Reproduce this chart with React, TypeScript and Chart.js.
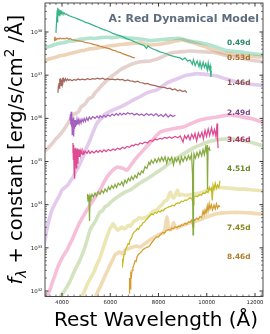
import React, { useEffect, useRef } from "react";
import { Chart, registerables } from "chart.js";

Chart.register(...registerables);

// ---------- axis / tick data ----------
const X_MIN = 3295;
const X_MAX = 12331;
const LOG_MIN = 31.873;
const LOG_MAX = 38.672;
const X_MAJOR_TICKS = [4000, 6000, 8000, 10000, 12000];
const X_TICK_LABELS = ["4000", "6000", "8000", "10000", "12000"];
const X_MINOR_STEP = 250;
const Y_MAJOR_EXPONENTS = [32, 33, 34, 35, 36, 37, 38];

const TITLE = "A: Red Dynamical Model";
const X_LABEL = "Rest Wavelength (Å)";

const DAY_LABELS = ["0.49d", "0.53d", "1.46d", "2.49d", "3.46d", "4.51d", "7.45d", "8.46d"];
const DAY_LABEL_LOGF = [37.745, 37.398, 36.819, 36.124, 35.499, 34.827, 33.461, 32.789];
const DAY_LABEL_WAVE = 10840;

// ---------- observed spectra: [wavelength Å, log10 flux] ----------
const obs049: [number, number][] = [
  [3750, 37.98], [3780, 38.30], [3800, 38.50], [3815, 38.22], [3830, 38.56], [3850, 38.40], [3870, 38.53],
  [3890, 38.38], [3910, 38.50], [3930, 38.42], [3950, 38.51], [3975, 38.43], [4000, 38.46], [4040, 38.42],
  [4080, 38.45], [4130, 38.41], [4180, 38.42], [4250, 38.39], [4330, 38.37], [4420, 38.35], [4520, 38.33],
  [4620, 38.31], [4746, 38.28], [4850, 38.26], [4950, 38.23], [5060, 38.21], [5161, 38.19], [5280, 38.16],
  [5400, 38.13], [5500, 38.11], [5575, 38.09], [5700, 38.06], [5820, 38.04], [5990, 38.00], [6100, 37.97],
  [6250, 37.94], [6404, 37.91], [6550, 37.88], [6700, 37.84], [6819, 37.82], [6950, 37.79], [7100, 37.75],
  [7233, 37.72], [7400, 37.69], [7500, 37.62], [7560, 37.68], [7648, 37.64], [7800, 37.60], [7950, 37.57],
  [8062, 37.54], [8200, 37.52], [8350, 37.49], [8477, 37.46], [8600, 37.44], [8750, 37.42], [8891, 37.40],
  [9000, 37.36], [9100, 37.40], [9200, 37.33], [9306, 37.35], [9400, 37.25], [9450, 37.36], [9520, 37.22],
  [9600, 37.33], [9680, 37.20], [9720, 37.31], [9780, 37.16], [9850, 37.30], [9900, 37.18], [9960, 37.27],
  [10020, 37.12], [10060, 37.28], [10100, 37.14], [10140, 37.22], [10170, 36.96], [10190, 37.10],
];

const obs053: [number, number][] = [
  [3670, 37.80], [3690, 37.84], [3710, 37.81], [3740, 37.86], [3780, 37.83], [3830, 37.85], [3880, 37.84],
  [3920, 37.86], [3980, 37.84], [4050, 37.85], [4120, 37.84], [4200, 37.86], [4280, 37.83], [4332, 37.85],
  [4420, 37.82], [4520, 37.81], [4620, 37.80], [4746, 37.79], [4850, 37.78], [4950, 37.76], [5060, 37.75],
  [5161, 37.74], [5270, 37.72], [5380, 37.70], [5480, 37.69], [5575, 37.67], [5700, 37.65], [5800, 37.64],
  [5900, 37.62], [5990, 37.61], [6100, 37.58], [6200, 37.57], [6300, 37.54], [6404, 37.53], [6500, 37.50],
  [6600, 37.48], [6700, 37.46], [6800, 37.44], [6900, 37.42], [6960, 37.40], [7020, 37.41],
];

const obs146: [number, number][] = [
  [3830, 36.59], [3850, 36.75], [3870, 36.82], [3890, 36.70], [3905, 36.92], [3920, 36.80], [3940, 36.93],
  [3960, 36.76], [3980, 36.90], [4000, 36.83], [4020, 36.94], [4041, 36.81], [4070, 36.91], [4100, 36.86],
  [4140, 36.92], [4180, 36.87], [4230, 36.91], [4280, 36.88], [4340, 36.90], [4415, 36.87], [4500, 36.90],
  [4580, 36.88], [4660, 36.91], [4746, 36.89], [4850, 36.91], [4953, 36.89], [5060, 36.92], [5161, 36.90],
  [5260, 36.92], [5368, 36.91], [5470, 36.93], [5575, 36.91], [5680, 36.93], [5782, 36.90], [5890, 36.92],
  [5990, 36.90], [6100, 36.91], [6197, 36.89], [6300, 36.91], [6404, 36.89], [6510, 36.90], [6611, 36.87],
  [6720, 36.89], [6819, 36.87], [6930, 36.86], [7026, 36.84], [7130, 36.86], [7233, 36.83], [7340, 36.82],
  [7440, 36.80], [7550, 36.81], [7648, 36.78], [7750, 36.77], [7855, 36.76], [7960, 36.74], [8062, 36.73],
  [8170, 36.72], [8270, 36.71], [8370, 36.69], [8477, 36.70], [8580, 36.66], [8684, 36.68], [8790, 36.64],
  [8891, 36.66], [9000, 36.62], [9099, 36.64], [9180, 36.60],
];

const obs249: [number, number][] = [
  [4330, 35.95], [4350, 36.10], [4365, 35.85], [4380, 36.15], [4395, 35.80], [4410, 36.05], [4425, 35.62],
  [4440, 35.98], [4455, 35.75], [4470, 36.02], [4485, 35.58], [4500, 35.90], [4520, 35.76], [4540, 35.96],
  [4560, 35.80], [4580, 35.94], [4600, 35.84], [4622, 35.97], [4650, 35.86], [4680, 35.96], [4710, 35.88],
  [4746, 35.97], [4790, 35.89], [4829, 35.98], [4880, 35.92], [4920, 36.00], [4970, 35.93], [5020, 36.01],
  [5078, 35.95], [5130, 36.03], [5202, 35.98], [5270, 36.04], [5368, 36.00], [5450, 36.05], [5530, 36.01],
  [5575, 36.06], [5660, 36.02], [5740, 36.07], [5820, 36.03], [5900, 36.08], [5990, 36.05], [6080, 36.10],
  [6160, 36.06], [6250, 36.11], [6330, 36.07], [6404, 36.12], [6480, 36.08], [6560, 36.12], [6640, 36.09],
  [6720, 36.13], [6819, 36.10], [6900, 36.12], [7000, 36.08], [7100, 36.11], [7200, 36.07], [7300, 36.10],
  [7400, 36.06], [7500, 36.11], [7600, 36.07], [7700, 36.10], [7800, 36.06], [7900, 36.11], [8000, 36.05],
  [8100, 36.09], [8200, 36.04], [8300, 36.10], [8400, 36.03], [8500, 36.08], [8600, 36.04], [8700, 36.07],
];

const obs346: [number, number][] = [
  [4440, 35.20], [4455, 35.43], [4470, 35.05], [4485, 35.38], [4500, 34.80], [4515, 35.30], [4530, 34.60],
  [4545, 35.25], [4560, 35.00], [4575, 35.32], [4590, 34.85], [4605, 35.28], [4620, 35.10], [4640, 35.30],
  [4660, 34.95], [4680, 35.27], [4705, 35.12], [4730, 35.28], [4760, 35.15], [4790, 35.26], [4829, 35.17],
  [4870, 35.25], [4912, 35.18], [4960, 35.24], [5036, 35.19], [5100, 35.25], [5161, 35.19], [5240, 35.24],
  [5326, 35.20], [5420, 35.25], [5500, 35.21], [5575, 35.26], [5660, 35.22], [5740, 35.27], [5824, 35.23],
  [5920, 35.28], [6020, 35.25], [6114, 35.29], [6200, 35.26], [6300, 35.31], [6404, 35.28], [6500, 35.33],
  [6600, 35.30], [6700, 35.35], [6800, 35.33], [6900, 35.38], [6963, 35.36], [7050, 35.40], [7150, 35.38],
  [7233, 35.43], [7330, 35.41], [7440, 35.45], [7540, 35.43], [7648, 35.49], [7750, 35.47], [7855, 35.52],
  [7950, 35.50], [8062, 35.54], [8150, 35.52], [8250, 35.56], [8352, 35.54], [8450, 35.57], [8550, 35.54],
  [8684, 35.58], [8800, 35.55], [8900, 35.59], [9016, 35.45], [9080, 35.60], [9150, 35.53], [9230, 35.61],
  [9306, 35.50], [9380, 35.63], [9450, 35.54], [9513, 35.65], [9580, 35.48], [9650, 35.66], [9720, 35.56],
  [9800, 35.68], [9860, 35.52], [9928, 35.72], [9990, 35.58], [10060, 35.75], [10120, 35.60], [10200, 35.78],
  [10260, 35.62], [10320, 35.74], [10380, 35.58], [10425, 35.88], [10450, 35.50], [10470, 35.31],
];

const obs451: [number, number][] = [
  [5040, 34.14], [5060, 34.25], [5080, 34.08], [5100, 34.22], [5119, 34.12], [5140, 33.62], [5161, 34.21],
  [5200, 34.15], [5244, 34.24], [5300, 34.18], [5368, 34.27], [5430, 34.20], [5500, 34.30], [5575, 34.24],
  [5650, 34.33], [5720, 34.27], [5782, 34.36], [5860, 34.30], [5930, 34.41], [5990, 34.35], [6060, 34.44],
  [6130, 34.38], [6197, 34.47], [6260, 34.40], [6330, 34.50], [6404, 34.45], [6480, 34.53], [6540, 34.44],
  [6611, 34.57], [6680, 34.50], [6750, 34.61], [6819, 34.55], [6880, 34.65], [6950, 34.58], [7026, 34.68],
  [7100, 34.62], [7160, 34.74], [7233, 34.69], [7300, 34.78], [7360, 34.74], [7440, 34.88], [7520, 34.84],
  [7600, 34.98], [7648, 34.93], [7700, 35.03], [7780, 34.96], [7855, 35.06], [7930, 34.98], [8000, 35.08],
  [8062, 35.00], [8130, 35.10], [8200, 35.01], [8270, 35.11], [8340, 34.96], [8400, 35.09], [8477, 35.02],
  [8550, 35.10], [8620, 34.92], [8684, 35.08], [8750, 35.00], [8820, 35.09], [8891, 34.95], [8950, 35.10],
  [9020, 35.00], [9099, 35.12], [9170, 35.03], [9240, 35.14], [9306, 35.05], [9370, 35.17], [9410, 34.70],
  [9430, 33.30], [9450, 34.85], [9472, 35.18], [9530, 35.08], [9596, 35.21], [9660, 35.11], [9720, 35.24],
  [9790, 35.13], [9845, 35.28], [9900, 35.16], [9950, 35.33], [9990, 35.22], [10011, 35.38], [10030, 34.35],
  [10052, 35.26], [10100, 35.32], [10135, 35.24],
];

const obs745: [number, number][] = [
  [6487, 32.56], [6510, 32.75], [6530, 32.68], [6570, 32.85], [6610, 32.92], [6650, 32.98], [6694, 33.04],
  [6740, 33.10], [6780, 33.08], [6819, 33.18], [6870, 33.22], [6943, 33.33], [7000, 33.37], [7067, 33.40],
  [7120, 33.45], [7180, 33.43], [7233, 33.50], [7300, 33.52], [7360, 33.58], [7420, 33.60], [7480, 33.65],
  [7540, 33.68], [7600, 33.72], [7648, 33.75], [7720, 33.79], [7780, 33.77], [7855, 33.82], [7930, 33.80],
  [8000, 33.85], [8062, 33.83], [8130, 33.87], [8200, 33.86], [8270, 33.91], [8352, 33.93], [8420, 33.95],
  [8500, 33.96], [8580, 33.99], [8650, 33.97], [8720, 34.02], [8800, 34.04], [8870, 34.03], [8950, 34.08],
  [9030, 34.07], [9100, 34.11], [9170, 34.10], [9250, 34.14], [9306, 34.16], [9380, 34.15], [9440, 34.00],
  [9470, 34.18], [9540, 34.20], [9620, 34.19], [9700, 34.23], [9770, 34.22], [9850, 34.27], [9928, 34.26],
  [9990, 34.31], [10050, 34.28], [10100, 34.40], [10135, 34.34], [10190, 34.38], [10230, 34.10], [10260, 34.45],
  [10300, 34.36], [10350, 34.50], [10400, 34.38], [10450, 34.46], [10500, 34.40], [10549, 34.55],
];

const obs846: [number, number][] = [
  [6780, 31.95], [6800, 32.30], [6820, 32.05], [6850, 32.40], [6880, 32.35], [6902, 32.48], [6940, 32.55],
  [6984, 32.62], [7030, 32.70], [7070, 32.68], [7109, 32.79], [7160, 32.84], [7233, 32.88], [7300, 32.92],
  [7360, 32.96], [7440, 32.99], [7520, 33.01], [7600, 33.03], [7648, 33.06], [7720, 33.12], [7800, 33.18],
  [7855, 33.22], [7938, 33.26], [8000, 33.25], [8062, 33.30], [8130, 33.33], [8187, 33.36], [8250, 33.34],
  [8320, 33.40], [8400, 33.42], [8477, 33.41], [8550, 33.46], [8620, 33.44], [8684, 33.49], [8767, 33.47],
  [8830, 33.50], [8891, 33.49], [8950, 33.53], [9020, 33.52], [9099, 33.57], [9170, 33.55], [9240, 33.60],
  [9306, 33.59], [9380, 33.65], [9430, 33.48], [9460, 33.66], [9513, 33.64], [9580, 33.69], [9650, 33.66],
  [9720, 33.73], [9790, 33.70], [9845, 33.85], [9890, 33.76], [9928, 33.88], [9970, 33.80], [10020, 33.97],
  [10052, 33.85], [10100, 34.02], [10135, 33.90], [10190, 34.00], [10240, 33.88], [10300, 33.99], [10350, 33.90],
  [10400, 34.02], [10450, 33.92], [10500, 33.98], [10549, 33.95],
];

// ---------- model spectra: [wavelength Å, log10 flux] ----------
const model049: [number, number][] = [
  [3250, 37.63], [3500, 37.67], [3710, 37.71], [3920, 37.74], [4130, 37.76], [4330, 37.79], [4540, 37.80],
  [4750, 37.83], [4950, 37.84], [5160, 37.86], [5370, 37.85], [5580, 37.87], [5860, 37.88], [6100, 37.87],
  [6400, 37.89], [6620, 37.87], [6820, 37.86], [7030, 37.85], [7230, 37.84], [7440, 37.82], [7650, 37.80],
  [7860, 37.81], [8060, 37.82], [8270, 37.83], [8480, 37.84], [8690, 37.85], [8890, 37.85], [9100, 37.82],
  [9300, 37.79], [9510, 37.77], [9720, 37.75], [9930, 37.73], [10130, 37.70], [10340, 37.66], [10550, 37.62],
  [10760, 37.58], [10960, 37.56], [11170, 37.55], [11380, 37.54], [11590, 37.52], [11790, 37.51], [12000, 37.49],
  [12400, 37.47],
];

const model053: [number, number][] = [
  [3250, 37.33], [3500, 37.38], [3710, 37.41], [3920, 37.45], [4130, 37.47], [4330, 37.50], [4540, 37.53],
  [4750, 37.56], [4950, 37.58], [5160, 37.61], [5370, 37.62], [5580, 37.64], [5800, 37.66], [6000, 37.68],
  [6200, 37.69], [6400, 37.71], [6620, 37.72], [6820, 37.73], [7030, 37.74], [7230, 37.75], [7440, 37.72],
  [7650, 37.70], [7860, 37.71], [8060, 37.72], [8270, 37.74], [8480, 37.76], [8690, 37.79], [8890, 37.81],
  [9000, 37.82], [9100, 37.80], [9300, 37.77], [9510, 37.74], [9720, 37.70], [9930, 37.66], [10130, 37.61],
  [10340, 37.57], [10550, 37.53], [10760, 37.50], [10960, 37.49], [11170, 37.47], [11380, 37.46], [11590, 37.45],
  [11790, 37.44], [12000, 37.43], [12400, 37.42],
];

const model146: [number, number][] = [
  [3250, 35.22], [3400, 35.30], [3500, 35.36], [3600, 35.42], [3710, 35.50], [3850, 35.58], [4000, 35.68],
  [4150, 35.80], [4330, 35.96], [4500, 36.10], [4663, 36.14], [4800, 36.27], [4953, 36.33], [5100, 36.45],
  [5244, 36.49], [5380, 36.60], [5492, 36.66], [5640, 36.76], [5782, 36.84], [5920, 36.91], [6073, 36.98],
  [6240, 37.05], [6404, 37.12], [6600, 37.18], [6819, 37.24], [7030, 37.28], [7233, 37.31], [7440, 37.32],
  [7648, 37.33], [7860, 37.36], [8062, 37.40], [8270, 37.46], [8477, 37.51], [8680, 37.53], [8891, 37.54],
  [9100, 37.55], [9306, 37.56], [9600, 37.55], [9928, 37.54], [10200, 37.53], [10425, 37.51], [10700, 37.47],
  [10964, 37.44], [11300, 37.41], [11586, 37.38], [11950, 37.34], [12400, 37.30],
];

const model249: [number, number][] = [
  [3250, 33.05], [3350, 33.35], [3420, 33.55], [3500, 33.72], [3586, 33.88], [3690, 34.00], [3793, 34.11],
  [3900, 34.22], [4000, 34.34], [4120, 34.40], [4249, 34.46], [4350, 34.55], [4456, 34.64], [4560, 34.76],
  [4663, 34.85], [4770, 34.98], [4870, 35.10], [5000, 35.30], [5161, 35.50], [5300, 35.70], [5451, 35.89],
  [5560, 35.96], [5658, 36.01], [5760, 36.08], [5865, 36.12], [6100, 36.19], [6404, 36.26], [6650, 36.33],
  [6943, 36.42], [7230, 36.50], [7523, 36.59], [7730, 36.63], [7938, 36.66], [8150, 36.74], [8352, 36.82],
  [8600, 36.88], [8891, 36.94], [9100, 36.99], [9306, 37.01], [9500, 37.03], [9720, 37.03], [10050, 37.01],
  [10425, 36.98], [10800, 36.91], [11254, 36.84], [11700, 36.80], [12000, 36.78], [12400, 36.76],
];

const model346: [number, number][] = [
  [3250, 31.70], [3295, 31.79], [3400, 31.92], [3503, 32.03], [3600, 32.20], [3710, 32.37], [3800, 32.52],
  [3917, 32.67], [4060, 32.82], [4207, 32.95], [4300, 33.06], [4415, 33.18], [4580, 33.40], [4746, 33.60],
  [4950, 33.80], [5161, 33.99], [5370, 34.17], [5575, 34.34], [5720, 34.50], [5865, 34.64], [6070, 34.78],
  [6280, 34.87], [6400, 34.86], [6487, 34.85], [6600, 34.82], [6694, 34.80], [6900, 34.95], [7109, 35.10],
  [7380, 35.27], [7648, 35.43], [7860, 35.57], [8062, 35.68], [8200, 35.71], [8352, 35.73], [8700, 35.77],
  [9016, 35.80], [9350, 35.88], [9720, 35.96], [10050, 36.00], [10425, 36.03], [10964, 36.08], [11400, 36.04],
  [11793, 36.00], [12100, 35.95], [12400, 35.89],
];

const model451: [number, number][] = [
  [3710, 31.68], [3917, 31.86], [4124, 32.02], [4332, 32.23], [4539, 32.49], [4746, 32.72], [4953, 33.02],
  [5161, 33.41], [5268, 33.52], [5368, 33.60], [5470, 33.72], [5575, 33.83], [5680, 33.86], [5780, 33.95],
  [5880, 33.98], [5990, 34.04], [6200, 34.14], [6404, 34.22], [6611, 34.29], [6819, 34.34], [7030, 34.42],
  [7233, 34.50], [7440, 34.57], [7648, 34.64], [7855, 34.72], [8062, 34.80], [8270, 34.88], [8477, 34.97],
  [8680, 35.05], [8891, 35.13], [9100, 35.20], [9306, 35.27], [9580, 35.35], [9845, 35.41], [10130, 35.47],
  [10425, 35.50], [10750, 35.52], [11088, 35.52], [11450, 35.49], [11793, 35.45], [12100, 35.40], [12400, 35.35],
];

const model745: [number, number][] = [
  [4700, 31.70], [4870, 31.93], [4953, 32.03], [5060, 32.17], [5161, 32.28], [5240, 32.36], [5326, 32.44],
  [5420, 32.58], [5500, 32.68], [5575, 32.77], [5680, 32.95], [5780, 33.12], [5880, 33.28], [5990, 33.45],
  [6060, 33.50], [6114, 33.56], [6200, 33.48], [6321, 33.41], [6400, 33.45], [6487, 33.48], [6570, 33.44],
  [6653, 33.46], [6740, 33.52], [6819, 33.50], [6960, 33.60], [7109, 33.65], [7200, 33.70], [7316, 33.68],
  [7420, 33.70], [7523, 33.72], [7630, 33.76], [7731, 33.83], [7840, 33.86], [7938, 33.88], [8040, 33.95],
  [8145, 34.00], [8250, 34.08], [8352, 34.11], [8420, 34.20], [8500, 34.29], [8560, 34.18], [8640, 34.16],
  [8720, 34.26], [8790, 34.33], [8850, 34.22], [8950, 34.24], [9100, 34.22], [9306, 34.23], [9500, 34.25],
  [9720, 34.27], [9930, 34.31], [10135, 34.35], [10466, 34.40], [10964, 34.38], [11300, 34.36], [11586, 34.36],
  [11950, 34.34], [12400, 34.32],
];

const model846: [number, number][] = [
  [5200, 31.60], [5368, 31.84], [5470, 31.97], [5575, 32.09], [5680, 32.22], [5782, 32.35], [5890, 32.47],
  [5990, 32.60], [6100, 32.72], [6197, 32.84], [6300, 32.88], [6404, 32.90], [6500, 32.86], [6611, 32.95],
  [6750, 32.98], [6943, 33.02], [7100, 33.04], [7233, 33.02], [7440, 33.10], [7648, 33.18], [7800, 33.24],
  [7938, 33.28], [8060, 33.32], [8187, 33.34], [8270, 33.45], [8352, 33.72], [8420, 33.45], [8520, 33.42],
  [8620, 33.58], [8700, 33.47], [8767, 33.46], [8930, 33.51], [9099, 33.54], [9306, 33.58], [9500, 33.61],
  [9720, 33.65], [9930, 33.70], [10135, 33.74], [10400, 33.79], [10673, 33.81], [11000, 33.82], [11378, 33.82],
  [11800, 33.81], [12100, 33.79], [12400, 33.78],
];

// ---------- colours ----------
const OBS_SERIES = [obs049, obs053, obs146, obs249, obs346, obs451, obs745, obs846];
const MODEL_SERIES = [model049, model053, model146, model249, model346, model451, model745, model846];
const OBS_COLORS = [
  "rgb(58,180,135)", "rgb(196,136,66)", "rgb(165,105,95)", "rgb(165,95,190)",
  "rgb(222,75,145)", "rgb(135,170,65)", "rgb(196,186,36)", "rgb(212,156,46)",
];
const MODEL_COLORS = [
  "rgba(64,185,140,0.4)", "rgba(215,160,100,0.45)", "rgba(190,140,130,0.4)", "rgba(190,140,215,0.45)",
  "rgba(240,130,180,0.5)", "rgba(170,200,130,0.5)", "rgba(220,210,120,0.55)", "rgba(230,190,120,0.55)",
];
const LABEL_COLORS = [
  "#2b8a66", "#a8702a", "#8a5550", "#7a4a90", "#a83068", "#6a8a2a", "#8a8420", "#b08028",
];

const toPoints = (s: [number, number][]) => s.map(([w, lf]) => ({ x: w, y: Math.pow(10, lf) }));

const FONT = "'DejaVu Sans', sans-serif";

const decorPlugin = {
  id: "decor",
  afterDatasetsDraw(chart: any) {
    const { ctx, chartArea: a, scales } = chart;
    const xs = scales.x;
    const ys = scales.y;
    ctx.save();

    // frame
    ctx.strokeStyle = "#222";
    ctx.lineWidth = 0.8;
    ctx.strokeRect(a.left, a.top, a.right - a.left, a.bottom - a.top);

    // x ticks (bottom and top, inward)
    for (let v = 3500; v <= X_MAX; v += X_MINOR_STEP) {
      const px = xs.getPixelForValue(v);
      if (px < a.left || px > a.right) continue;
      const major = X_MAJOR_TICKS.includes(v);
      const len = major ? 3.5 : 2;
      ctx.lineWidth = major ? 0.9 : 0.6;
      ctx.beginPath();
      ctx.moveTo(px, a.bottom);
      ctx.lineTo(px, a.bottom - len);
      ctx.moveTo(px, a.top);
      ctx.lineTo(px, a.top + len);
      ctx.stroke();
    }
    // y ticks (left and right, inward)
    for (let e = 31; e <= 38; e++) {
      for (let k = 1; k <= 9; k++) {
        const val = k * Math.pow(10, e);
        const lg = Math.log10(val);
        if (lg < LOG_MIN || lg > LOG_MAX) continue;
        const py = ys.getPixelForValue(val);
        const major = k === 1;
        const len = major ? 3.5 : 2;
        ctx.lineWidth = major ? 0.9 : 0.6;
        ctx.beginPath();
        ctx.moveTo(a.left, py);
        ctx.lineTo(a.left + len, py);
        ctx.moveTo(a.right, py);
        ctx.lineTo(a.right - len, py);
        ctx.stroke();
      }
    }

    // x tick labels
    ctx.fillStyle = "#222";
    ctx.font = `5.3px ${FONT}`;
    ctx.textAlign = "center";
    ctx.textBaseline = "top";
    X_MAJOR_TICKS.forEach((v, i) => {
      ctx.fillText(X_TICK_LABELS[i], xs.getPixelForValue(v), a.bottom + 3.2);
    });

    // y tick labels: 10^n
    ctx.textAlign = "left";
    ctx.textBaseline = "alphabetic";
    Y_MAJOR_EXPONENTS.forEach((e) => {
      const py = ys.getPixelForValue(Math.pow(10, e));
      ctx.font = `5.5px ${FONT}`;
      const w10 = ctx.measureText("10").width;
      ctx.font = `3.8px ${FONT}`;
      const wE = ctx.measureText(String(e)).width;
      const x0 = a.left - 2.5 - w10 - wE;
      ctx.font = `5.5px ${FONT}`;
      ctx.fillText("10", x0, py + 2.1);
      ctx.font = `3.8px ${FONT}`;
      ctx.fillText(String(e), x0 + w10, py - 0.3);
    });

    // title
    ctx.fillStyle = "#5d6d7e";
    ctx.font = `bold 11px ${FONT}`;
    ctx.textAlign = "right";
    ctx.fillText(TITLE, a.right - 4, 21.5);

    // day labels
    ctx.font = `bold 7.4px ${FONT}`;
    ctx.textAlign = "left";
    ctx.textBaseline = "middle";
    DAY_LABELS.forEach((t, i) => {
      ctx.fillStyle = LABEL_COLORS[i];
      ctx.fillText(t, xs.getPixelForValue(DAY_LABEL_WAVE), ys.getPixelForValue(Math.pow(10, DAY_LABEL_LOGF[i])));
    });

    // x axis label
    ctx.fillStyle = "#000";
    ctx.font = `20px ${FONT}`;
    ctx.textAlign = "center";
    ctx.textBaseline = "alphabetic";
    ctx.fillText(X_LABEL, (a.left + a.right) / 2 + 2, 326);

    // y axis label (rotated, with math pieces)
    const fs = 19.5;
    const pieces = [
      { t: "f", font: `italic ${fs}px ${FONT}`, dy: 0 },
      { t: "λ", font: `italic ${fs * 0.7}px ${FONT}`, dy: fs * 0.22 },
      { t: " + constant [erg/s/cm", font: `${fs}px ${FONT}`, dy: 0 },
      { t: "2", font: `${fs * 0.7}px ${FONT}`, dy: -fs * 0.4 },
      { t: " /Å]", font: `${fs}px ${FONT}`, dy: 0 },
    ];
    let total = 0;
    const widths = pieces.map((p) => {
      ctx.font = p.font;
      const w = ctx.measureText(p.t).width;
      total += w;
      return w;
    });
    ctx.translate(21.5, (a.top + a.bottom) / 2);
    ctx.rotate(-Math.PI / 2);
    ctx.textAlign = "left";
    let cx = -total / 2;
    pieces.forEach((p, i) => {
      ctx.font = p.font;
      ctx.fillText(p.t, cx, p.dy);
      cx += widths[i];
    });

    ctx.restore();
  },
};

export default function App() {
  const ref = useRef<HTMLCanvasElement | null>(null);

  useEffect(() => {
    if (!ref.current) return;
    const datasets: any[] = [];
    OBS_SERIES.forEach((s, i) => {
      datasets.push({
        data: toPoints(s),
        borderColor: OBS_COLORS[i],
        borderWidth: 1.25,
        pointRadius: 0,
        tension: 0,
        fill: false,
        order: 0,
      });
    });
    MODEL_SERIES.forEach((s, i) => {
      datasets.push({
        data: toPoints(s),
        borderColor: MODEL_COLORS[i],
        borderWidth: 3.6,
        pointRadius: 0,
        tension: 0.25,
        fill: false,
        order: 1,
      });
    });

    const chart = new Chart(ref.current, {
      type: "line",
      data: { datasets },
      options: {
        animation: false,
        responsive: false,
        maintainAspectRatio: false,
        devicePixelRatio: 1,
        events: [],
        layout: { padding: { left: 45, right: 7, top: 3, bottom: 37.5 } },
        plugins: { legend: { display: false }, tooltip: { enabled: false }, title: { display: false } },
        scales: {
          x: { type: "linear", min: X_MIN, max: X_MAX, display: false },
          y: { type: "logarithmic", min: Math.pow(10, LOG_MIN), max: Math.pow(10, LOG_MAX), display: false },
        },
      },
      plugins: [decorPlugin],
    });
    return () => chart.destroy();
  }, []);

  return (
    <div style={{ position: "fixed", left: 0, top: 0, width: 270, height: 334, background: "#fff" }}>
      <canvas ref={ref} width={270} height={334} style={{ display: "block", width: 270, height: 334 }} />
    </div>
  );
}
